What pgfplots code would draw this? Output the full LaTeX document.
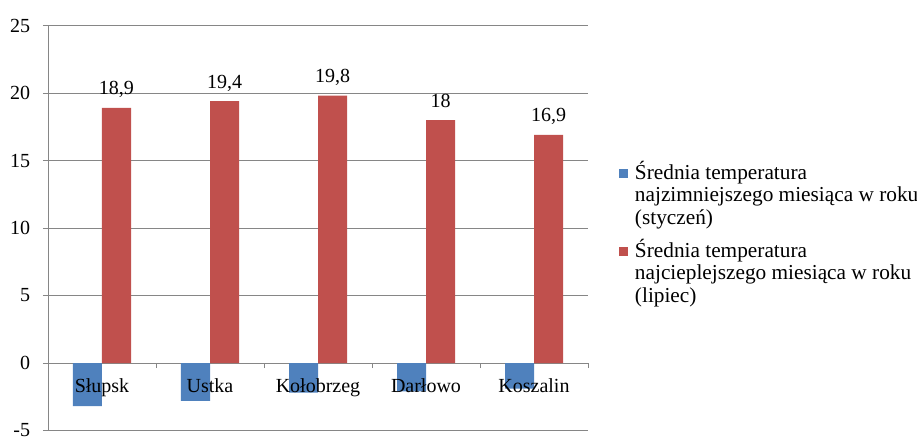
\documentclass[border=0pt]{standalone}
\usepackage{fontspec}
\setmainfont{Liberation Serif}
\usepackage{pgfplots}
\pgfplotsset{compat=1.18}
\definecolor{exblue}{RGB}{79,129,189}
\definecolor{exred}{RGB}{192,80,77}
\definecolor{exgray}{RGB}{134,134,134}
\begin{document}
\fontsize{20}{22}\selectfont
\begin{tikzpicture}
\begin{axis}[
  scale only axis, width=540pt, height=405pt,
  ymin=-5, ymax=25, ytick={-5,0,...,25},
  xmin=-0.5, xmax=4.5,
  axis x line=middle, axis y line=left,
  axis line style={-, exgray, line width=0.9pt},
  ymajorgrids, grid style={exgray, line width=0.8pt},
  xtick={-0.5,0.5,...,4.5}, xticklabels={},
  tick align=outside, major tick length=5pt,
  tick style={exgray, line width=0.9pt},
  tick label style={font=\fontsize{20}{22}\selectfont, text=black},
  yticklabel style={xshift=-6pt},
  /pgf/number format/assume math mode=true,
  ybar=0pt, bar width=29pt,
  legend style={draw=none, fill=none, at={(1.057,0.67)}, anchor=north west,
    font=\fontsize{21.3}{22.3}\selectfont, cells={anchor=west, align=left},
    row sep=8pt, inner sep=0pt},
  legend image code/.code={\path[draw=none, fill=none] (0pt,1.5pt) rectangle (14pt,10.5pt);
    \fill[#1, overlay] (0pt,16.5pt) rectangle (9pt,25.5pt);},
]
\addplot[fill=exblue, draw=none] coordinates {(0,-3.2) (1,-2.8) (2,-2.2) (3,-2.1) (4,-1.9)};
\addplot[fill=exred, draw=none,
  nodes near coords,
  nodes near coords style={anchor=base, yshift=13pt, text=black, font=\fontsize{20}{22}\selectfont, /pgf/number format/use comma, /pgf/number format/assume math mode=true}]
  coordinates {(0,18.9) (1,19.4) (2,19.8) (3,18) (4,16.9)};
\legend{{Średnia temperatura\\najzimniejszego miesiąca w roku\\(styczeń)},{Średnia temperatura\\najcieplejszego miesiąca w roku\\(lipiec)}}
\foreach \i/\n in {0/Słupsk,1/Ustka,2/Kołobrzeg,3/Darłowo,4/Koszalin}{
  \edef\tmp{\noexpand\node[anchor=north, yshift=-9pt, font=\noexpand\fontsize{20}{22}\noexpand\selectfont] at (axis cs:\i,0) {\n};}
  \tmp
}
\end{axis}
\pgfresetboundingbox
\path[use as bounding box] (-48pt,-7pt) rectangle (869pt,430.5pt);
\end{tikzpicture}
\end{document}
